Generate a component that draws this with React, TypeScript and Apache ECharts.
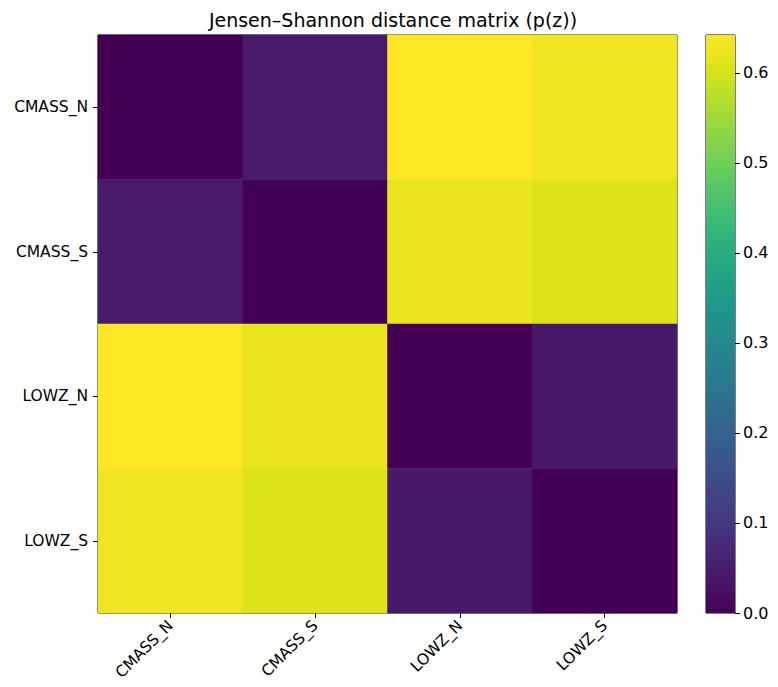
import React, { useEffect, useRef } from "react";
import * as echarts from "echarts";

const labels = ["CMASS_N", "CMASS_S", "LOWZ_N", "LOWZ_S"];
// rows (y) x columns (x)
const matrixRows = [
  [0.0, 0.045, 0.642, 0.628],
  [0.045, 0.0, 0.62, 0.608],
  [0.642, 0.62, 0.0, 0.043],
  [0.628, 0.608, 0.043, 0.0],
];
const colorMin = 0;
const colorMax = 0.642;
const colorbarTicks = [0.0, 0.1, 0.2, 0.3, 0.4, 0.5, 0.6];
const viridis = [
  "#440154", "#481467", "#482576", "#453781", "#404688", "#39558C", "#33638D",
  "#2D718E", "#287D8E", "#238A8D", "#1F968B", "#20A386", "#29AF7F", "#3CBC75",
  "#56C667", "#75D054", "#95D840", "#BADE28", "#DDE318", "#FDE725",
];

const FONT = "DejaVu Sans";

export default function App() {
  const ref = useRef<HTMLDivElement>(null);
  useEffect(() => {
    if (!ref.current) return;
    const chart = echarts.init(ref.current, null, { renderer: "svg" });
    const data: [number, number, number][] = [];
    matrixRows.forEach((row, yi) =>
      row.forEach((v, xi) => data.push([xi, yi, v]))
    );
    const gradStops = viridis.map((c, i) => ({
      offset: i / (viridis.length - 1),
      color: c,
    }));
    chart.setOption({
      animation: false,
      backgroundColor: "#fff",
      title: {
        text: "Jensen–Shannon distance matrix (p(z))",
        left: 388,
        top: 5,
        textAlign: "center",
        textStyle: { fontFamily: FONT, fontSize: 19, fontWeight: "normal", color: "#000" },
      },
      grid: [
        { left: 98, top: 35, width: 579, height: 578, show: true, borderColor: "#000", borderWidth: 1, backgroundColor: "transparent" },
        { left: 706, top: 35, width: 29, height: 578, show: true, borderColor: "#000", borderWidth: 1, backgroundColor: "transparent" },
      ],
      xAxis: [
        {
          type: "category",
          gridIndex: 0,
          data: labels,
          position: "bottom",
          axisLine: { show: false },
          axisTick: { show: true, alignWithLabel: true, length: 5, lineStyle: { color: "#000" } },
          axisLabel: { rotate: 45, fontFamily: FONT, fontSize: 15.5, color: "#000", margin: 10 },
          splitLine: { show: false },
        },
        {
          type: "category",
          gridIndex: 1,
          data: [""],
          show: false,
        },
      ],
      yAxis: [
        {
          type: "category",
          gridIndex: 0,
          data: labels,
          inverse: true,
          axisLine: { show: false },
          axisTick: { show: true, alignWithLabel: true, length: 5, lineStyle: { color: "#000" } },
          axisLabel: { fontFamily: FONT, fontSize: 15.5, color: "#000", margin: 10 },
          splitLine: { show: false },
        },
        {
          type: "value",
          gridIndex: 1,
          position: "right",
          min: colorMin,
          max: colorMax,
          interval: 0.1,
          axisLine: { show: false },
          axisTick: { show: true, length: 5, lineStyle: { color: "#000" } },
          axisLabel: {
            fontFamily: FONT,
            fontSize: 16,
            color: "#000",
            margin: 8,
            showMaxLabel: false,
            formatter: (v: number) => (colorbarTicks.some((t) => Math.abs(t - v) < 1e-9) ? v.toFixed(1) : ""),
          },
          splitLine: { show: false },
        },
      ],
      visualMap: {
        show: false,
        type: "continuous",
        min: colorMin,
        max: colorMax,
        dimension: 2,
        seriesIndex: 0,
        inRange: { color: viridis },
      },
      series: [
        {
          type: "heatmap",
          xAxisIndex: 0,
          yAxisIndex: 0,
          data,
          itemStyle: { borderWidth: 0 },
          emphasis: { disabled: true },
        },
        {
          type: "bar",
          xAxisIndex: 1,
          yAxisIndex: 1,
          data: [colorMax],
          barWidth: "100%",
          silent: true,
          itemStyle: {
            color: new echarts.graphic.LinearGradient(0, 1, 0, 0, gradStops),
          },
        },
      ],
    });
    return () => chart.dispose();
  }, []);
  return (
    <div
      ref={ref}
      style={{ position: "absolute", left: 0, top: 0, width: 778, height: 687 }}
    />
  );
}
